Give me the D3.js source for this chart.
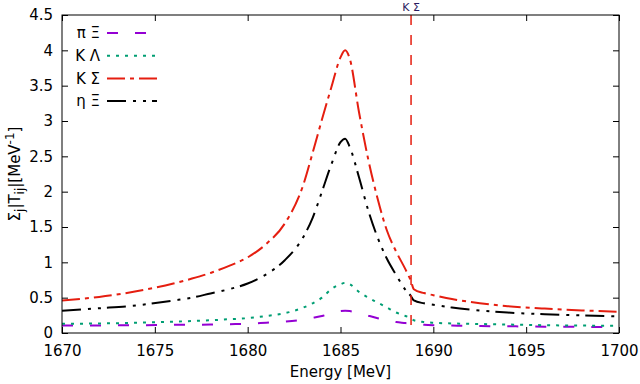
<!DOCTYPE html>
<html>
<head>
<meta charset="utf-8">
<style>
  body { margin: 0; background: #fff; }
  svg { font-family: "DejaVu Sans", sans-serif; }
</style>
</head>
<body>
<svg width="640" height="384"></svg>
<script src="https://cdn.jsdelivr.net/npm/d3@7/dist/d3.min.js"></script>
<script>
// energies in MeV (shared grid)
var energy = [1670, 1672, 1674, 1676, 1677, 1678, 1679, 1680, 1681, 1682, 1683, 1683.5, 1684, 1684.5, 1685, 1685.25, 1685.5,
              1686, 1686.5, 1687, 1687.5, 1688, 1688.5, 1688.8, 1688.95, 1689.5, 1690, 1691, 1692, 1694, 1696, 1698, 1700];

var piXi     = [0.105, 0.107, 0.11, 0.115, 0.117, 0.12, 0.125, 0.13, 0.145, 0.16, 0.19, 0.215, 0.24, 0.28, 0.31, 0.315, 0.31,
                0.28, 0.245, 0.21, 0.18, 0.155, 0.14, 0.13, 0.12, 0.115, 0.11, 0.105, 0.10, 0.095, 0.09, 0.087, 0.085];
var kLambda  = [0.13, 0.135, 0.145, 0.16, 0.17, 0.18, 0.195, 0.21, 0.24, 0.28, 0.36, 0.42, 0.50, 0.62, 0.69, 0.71, 0.69,
                0.58, 0.50, 0.43, 0.36, 0.29, 0.24, 0.21, 0.18, 0.155, 0.145, 0.135, 0.13, 0.12, 0.11, 0.105, 0.103];
var kSigma   = [0.46, 0.51, 0.59, 0.70, 0.77, 0.85, 0.95, 1.07, 1.26, 1.55, 2.10, 2.55, 3.02, 3.47, 3.90, 4.00, 3.88,
                3.12, 2.45, 1.90, 1.45, 1.15, 0.90, 0.73, 0.62, 0.565, 0.535, 0.48, 0.44, 0.38, 0.345, 0.32, 0.30];
var etaXi    = [0.315, 0.35, 0.39, 0.46, 0.50, 0.56, 0.62, 0.70, 0.83, 1.03, 1.36, 1.63, 2.00, 2.38, 2.70, 2.75, 2.63,
                2.20, 1.73, 1.35, 1.05, 0.82, 0.61, 0.52, 0.46, 0.42, 0.40, 0.36, 0.33, 0.29, 0.265, 0.25, 0.235];

var seriesNames = ["π Ξ", "K Λ", "K Σ", "η Ξ"];
var seriesColors = ["#9400d3", "#009e73", "#e51e10", "#000000"];
var seriesDash = ["11,17", "3,6", "18,5,4,5", "19,7,3,7,3,6"];
var xTicks = [1670, 1675, 1680, 1685, 1690, 1695, 1700];
var yTicks = [0, 0.5, 1, 1.5, 2, 2.5, 3, 3.5, 4, 4.5];
var threshold = 1688.8;

var svg = d3.select("svg"),
    margin = {left: 62, right: 21, top: 15, bottom: 51},
    width = +svg.attr("width"),
    height = +svg.attr("height");

var x = d3.scaleLinear().domain([1670, 1700]).range([margin.left, width - margin.right]);
var y = d3.scaleLinear().domain([0, 4.5]).range([height - margin.bottom, margin.top]);

var allSeries = [piXi, kLambda, kSigma, etaXi];

// clip for the curves
svg.append("clipPath").attr("id", "clip")
  .append("rect")
  .attr("x", x.range()[0]).attr("y", y.range()[1])
  .attr("width", x.range()[1] - x.range()[0])
  .attr("height", y.range()[0] - y.range()[1]);

var line = d3.line()
    .x(function(d) { return x(d[0]); })
    .y(function(d) { return y(d[1]); })
    .curve(d3.curveMonotoneX);

var g = svg.append("g").attr("clip-path", "url(#clip)");

allSeries.forEach(function(vals, i) {
  g.append("path")
    .datum(energy.map(function(e, k) { return [e, vals[k]]; }))
    .attr("fill", "none")
    .attr("stroke", seriesColors[i])
    .attr("stroke-width", 2)
    .attr("stroke-dasharray", seriesDash[i])
    .attr("d", line);
});

// threshold line
svg.append("line")
  .attr("x1", x(threshold)).attr("x2", x(threshold))
  .attr("y1", y.range()[1]).attr("y2", y.range()[0])
  .attr("stroke", "#e51e10").attr("stroke-width", 1.5)
  .attr("stroke-dasharray", "10,10");

svg.append("text")
  .attr("x", x(threshold)).attr("y", 11)
  .attr("text-anchor", "middle")
  .attr("font-size", 11)
  .attr("fill", "#2a1a60")
  .text("K Σ");

// axes, gnuplot-like: inward ticks mirrored on all sides
var tickLen = 6;
var axB = svg.append("g").attr("transform", "translate(0," + y.range()[0] + ")")
  .call(d3.axisBottom(x).tickValues(xTicks).tickSizeInner(-tickLen).tickSizeOuter(0).tickPadding(12)
    .tickFormat(d3.format("d")));
var axT = svg.append("g").attr("transform", "translate(0," + y.range()[1] + ")")
  .call(d3.axisTop(x).tickValues(xTicks).tickSizeInner(-tickLen).tickSizeOuter(0).tickFormat(""));
var axL = svg.append("g").attr("transform", "translate(" + x.range()[0] + ",0)")
  .call(d3.axisLeft(y).tickValues(yTicks).tickSizeInner(-tickLen).tickSizeOuter(0).tickPadding(9)
    .tickFormat(function(d) { return String(d); }));
var axR = svg.append("g").attr("transform", "translate(" + x.range()[1] + ",0)")
  .call(d3.axisRight(y).tickValues(yTicks).tickSizeInner(-tickLen).tickSizeOuter(0).tickFormat(""));

[axB, axT, axL, axR].forEach(function(a) {
  a.select(".domain").remove();
  a.selectAll("text").attr("font-size", 15).attr("font-family", "DejaVu Sans, sans-serif").attr("fill", "#000");
  a.selectAll("line").attr("stroke", "#000");
});

svg.append("rect")
  .attr("x", x.range()[0]).attr("y", y.range()[1])
  .attr("width", x.range()[1] - x.range()[0])
  .attr("height", y.range()[0] - y.range()[1])
  .attr("fill", "none").attr("stroke", "#000").attr("stroke-width", 1);

// axis titles
svg.append("text")
  .attr("x", (x.range()[0] + x.range()[1]) / 2).attr("y", 377)
  .attr("text-anchor", "middle").attr("font-size", 15)
  .text("Energy [MeV]");

var yl = svg.append("text")
  .attr("transform", "translate(20," + (y.range()[0] + y.range()[1]) / 2 + ") rotate(-90)")
  .attr("text-anchor", "middle").attr("font-size", 15);
yl.append("tspan").text("Σ");
yl.append("tspan").attr("font-size", 12).attr("dy", 4).text("j");
yl.append("tspan").attr("dy", -4).text("|T");
yl.append("tspan").attr("font-size", 12).attr("dy", 4).text("ij");
yl.append("tspan").attr("dy", -4).text("|[MeV");
yl.append("tspan").attr("font-size", 12).attr("dy", -6).text("-1");
yl.append("tspan").attr("dy", 6).text("]");

// legend
var legend = svg.append("g");
seriesNames.forEach(function(name, i) {
  var ly = 33 + i * 22.7;
  legend.append("text")
    .attr("x", 100).attr("y", ly).attr("dy", "0.35em")
    .attr("text-anchor", "end").attr("font-size", 15)
    .text(name);
  legend.append("line")
    .attr("x1", 107).attr("x2", 157).attr("y1", ly).attr("y2", ly)
    .attr("stroke", seriesColors[i]).attr("stroke-width", 2)
    .attr("stroke-dasharray", seriesDash[i]);
});
</script>
</body>
</html>
